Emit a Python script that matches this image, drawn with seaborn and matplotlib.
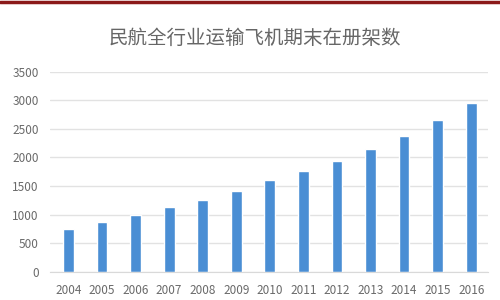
import pandas as pd
import seaborn as sns
import matplotlib.pyplot as plt

years = ['2004', '2005', '2006', '2007', '2008', '2009', '2010',
         '2011', '2012', '2013', '2014', '2015', '2016']
aircraft = [754, 863, 998, 1128, 1250, 1417, 1597,
            1764, 1941, 2145, 2370, 2650, 2950]
yticks = [0, 500, 1000, 1500, 2000, 2500, 3000, 3500]

df = pd.DataFrame({'year': years, 'count': aircraft})

sns.set_style('white')
plt.rcParams['font.family'] = ['Noto Sans CJK SC', 'DejaVu Sans']

fig = plt.figure(figsize=(5, 3), dpi=100)
ax = fig.add_axes([0.10, 0.094, 0.876, 0.667])

sns.barplot(data=df, x='year', y='count', color='#4a8ed4', width=0.32,
            saturation=1, ax=ax)

ax.set_ylim(0, 3500)
ax.set_yticks(yticks)
ax.set_xlim(-0.55, 12.5)
ax.grid(axis='y', color='#e2e2e2', linewidth=1)
ax.set_axisbelow(True)
for s in ['top', 'right', 'left']:
    ax.spines[s].set_visible(False)
ax.spines['bottom'].set_color('#d9d9d9')
ax.tick_params(axis='both', length=0, labelsize=8.5, colors='#6a6a6a')
ax.tick_params(axis='x', pad=9)
ax.tick_params(axis='y', pad=8)
ax.set_xlabel('')
ax.set_ylabel('')

fig.text(0.51, 0.873, '民航全行业运输飞机期末在册架数', ha='center', va='center',
         fontsize=14, color='#666666')

# dark red strip across the top
fig.add_artist(plt.Line2D([0, 1], [0.995, 0.995], color='#8b1a1a', linewidth=2.5))

fig.savefig('out.png', dpi=100)
